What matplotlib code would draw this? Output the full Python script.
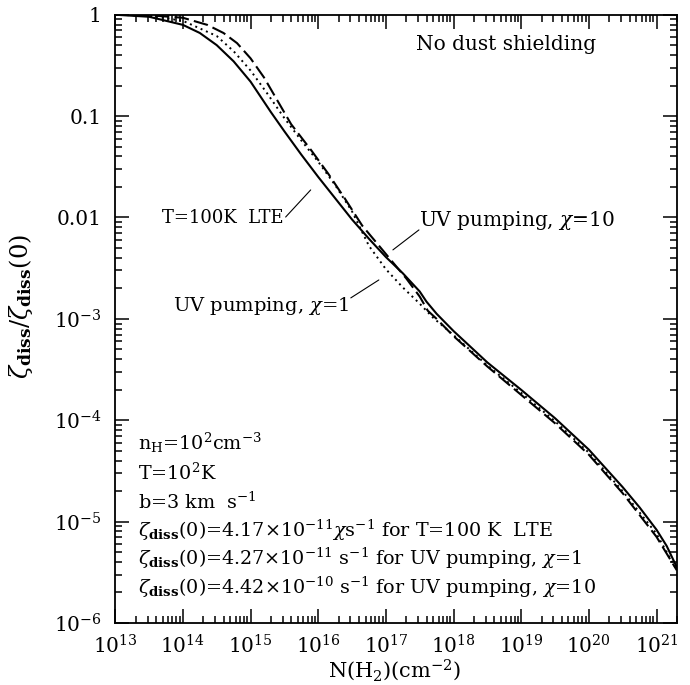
import numpy as np
import matplotlib
matplotlib.use("Agg")
import matplotlib.pyplot as plt
from matplotlib.ticker import LogLocator, NullFormatter

plt.rcParams["font.family"] = "DejaVu Serif"
plt.rcParams["mathtext.fontset"] = "dejavuserif"

# log10 N(H2) and log10 of zeta_diss/zeta_diss(0)
lte_logN = [13.0, 13.5, 14.0, 14.25, 14.5, 14.75, 15.0, 15.15, 15.3, 15.5, 15.75,
            16.0, 16.25, 16.5, 16.75, 17.0, 17.25, 17.5, 17.6, 17.75, 18.0, 18.5,
            19.0, 19.5, 20.0, 20.5, 20.75, 21.0, 21.15, 21.3]
lte_logz = [0.0, -0.02, -0.10, -0.18, -0.30, -0.46, -0.66, -0.81, -0.96, -1.15, -1.38,
            -1.60, -1.81, -2.02, -2.21, -2.39, -2.55, -2.73, -2.83, -2.95, -3.12, -3.43,
            -3.70, -3.98, -4.29, -4.66, -4.86, -5.08, -5.24, -5.45]

uv1_logN = [13.0, 13.5, 14.0, 14.5, 14.75, 15.0, 15.25, 15.5, 15.75, 16.0, 16.25,
            16.5, 16.75, 17.0, 17.25, 17.5, 17.7, 18.0, 18.5, 19.0, 19.5,
            20.0, 20.5, 21.0, 21.3]
uv1_logz = [0.0, -0.01, -0.06, -0.21, -0.36, -0.55, -0.78, -1.02, -1.24, -1.45, -1.68,
            -1.94, -2.28, -2.51, -2.69, -2.85, -2.99, -3.16, -3.46, -3.73, -4.01,
            -4.32, -4.70, -5.12, -5.48]

uv10_logN = [13.0, 13.5, 14.0, 14.36, 14.6, 14.8, 15.0, 15.2, 15.4, 15.6, 15.9, 16.15,
             16.4, 16.65, 17.0, 17.3, 17.5, 17.62, 17.75, 18.0, 18.5, 19.0, 19.5,
             20.0, 20.5, 21.0, 21.3]
uv10_logz = [0.0, -0.005, -0.03, -0.10, -0.18, -0.28, -0.43, -0.62, -0.85, -1.08, -1.34, -1.57,
             -1.82, -2.08, -2.36, -2.60, -2.78, -2.92, -3.00, -3.17, -3.47, -3.75, -4.03,
             -4.34, -4.72, -5.15, -5.48]

xticks = [1e13, 1e14, 1e15, 1e16, 1e17, 1e18, 1e19, 1e20, 1e21]
xticklabels = [r"10$^{%d}$" % k for k in range(13, 22)]
yticks = [1e-6, 1e-5, 1e-4, 1e-3, 0.01, 0.1, 1]
yticklabels = [r"10$^{-6}$", r"10$^{-5}$", r"10$^{-4}$", r"10$^{-3}$", "0.01", "0.1", "1"]

params = [r"n$_{\rm H}$=10$^{2}$cm$^{-3}$",
          r"T=10$^{2}$K",
          r"b=3 km  s$^{-1}$",
          r"$\zeta_{\bf diss}$(0)=4.17$\times$10$^{-11}$$\chi$s$^{-1}$ for T=100 K  LTE",
          r"$\zeta_{\bf diss}$(0)=4.27$\times$10$^{-11}$ s$^{-1}$ for UV pumping, $\chi$=1",
          r"$\zeta_{\bf diss}$(0)=4.42$\times$10$^{-10}$ s$^{-1}$ for UV pumping, $\chi$=10"]

fig = plt.figure(figsize=(6.9, 6.85), dpi=100)
ax = fig.add_axes([0.167, 0.0905, 0.814, 0.888])

ax.plot(10 ** np.array(lte_logN), 10 ** np.array(lte_logz), color="black", lw=1.5)
ax.plot(10 ** np.array(uv1_logN), 10 ** np.array(uv1_logz), color="black", lw=1.4,
        linestyle=(0, (1, 2.0)))
ax.plot(10 ** np.array(uv10_logN), 10 ** np.array(uv10_logz), color="black", lw=1.5,
        linestyle=(0, (7, 2.5)))

ax.set_xscale("log")
ax.set_yscale("log")
ax.set_xlim(1e13, 2e21)
ax.set_ylim(1e-6, 1)
ax.set_xticks(xticks)
ax.set_xticklabels(xticklabels)
ax.set_yticks(yticks)
ax.set_yticklabels(yticklabels)
ax.xaxis.set_minor_locator(LogLocator(base=10, subs=np.arange(2, 10), numticks=30))
ax.yaxis.set_minor_locator(LogLocator(base=10, subs=np.arange(2, 10), numticks=30))
ax.xaxis.set_minor_formatter(NullFormatter())
ax.yaxis.set_minor_formatter(NullFormatter())
ax.tick_params(which="both", direction="in", top=True, right=True, labelsize=14.5, width=1.1)
ax.tick_params(which="major", length=10)
ax.tick_params(axis="y", which="major", pad=10)
ax.tick_params(axis="x", which="major", pad=8)
ax.tick_params(which="minor", length=5)
for s in ax.spines.values():
    s.set_linewidth(1.3)

ax.set_xlabel(r"N(H$_2$)(cm$^{-2}$)", fontsize=15)
ax.xaxis.set_label_coords(0.498, -0.056)
ax.set_ylabel(r"$\zeta_{\bf diss}/\zeta_{\bf diss}(0)$", fontsize=17.5)
ax.yaxis.set_label_coords(-0.142, 0.52)

ax.text(0.696, 0.951, "No dust shielding", transform=ax.transAxes, fontsize=14.5,
        ha="center", va="center")

ax.text(3.08e15, 0.0099, "T=100K  LTE", fontsize=13, ha="right", va="center")
ax.annotate("", xy=(7.74e15, 0.0187), xytext=(3.3e15, 0.0101),
            arrowprops=dict(arrowstyle="-", lw=0.8, shrinkA=0, shrinkB=0))
ax.text(3.08e17, 9.25e-3, r"UV pumping, $\chi$=10", fontsize=14.5, ha="left", va="center")
ax.annotate("", xy=(1.27e17, 4.79e-3), xytext=(3.08e17, 7.54e-3),
            arrowprops=dict(arrowstyle="-", lw=0.8, shrinkA=0, shrinkB=0))
ax.text(2.83e16, 1.34e-3, r"UV pumping, $\chi$=1", fontsize=14, ha="right", va="center")
ax.annotate("", xy=(7.87e16, 2.42e-3), xytext=(3.03e16, 1.61e-3),
            arrowprops=dict(arrowstyle="-", lw=0.8, shrinkA=0, shrinkB=0))

ypos = [0.296, 0.247, 0.199, 0.153, 0.107, 0.058]
for yy, txt in zip(ypos, params):
    ax.text(0.041, yy, txt, transform=ax.transAxes, fontsize=13.8, ha="left", va="center")

plt.savefig("out.png", dpi=100)
